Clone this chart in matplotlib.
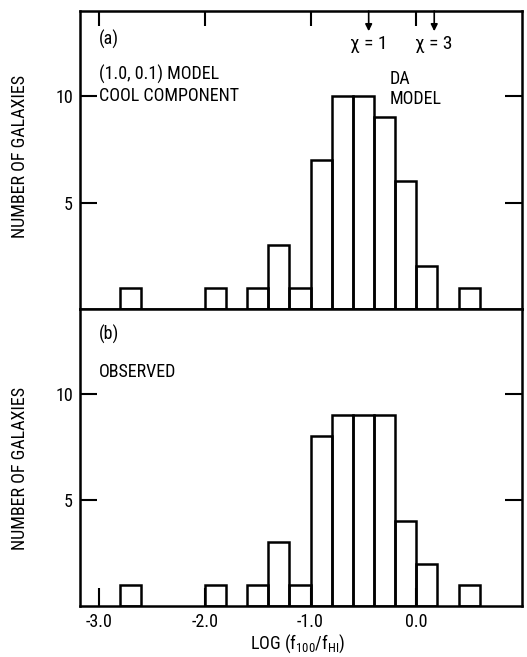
import matplotlib
matplotlib.use("Agg")
import matplotlib.pyplot as plt
from matplotlib import font_manager

# ---- data ----
bin_left = [-2.8, -2.0, -1.6, -1.4, -1.2, -1.0, -0.8, -0.6, -0.4, -0.2, 0.0, 0.4]
counts_a = [1, 1, 1, 3, 1, 7, 10, 10, 9, 6, 2, 1]   # (1.0, 0.1) model cool component
counts_b = [1, 1, 1, 3, 1, 8, 9, 9, 9, 4, 2, 1]     # observed
bin_width = 0.2
x_ticks = [-3.0, -2.0, -1.0, 0.0]
x_ticklabels = ["-3.0", "-2.0", "-1.0", "0.0"]
y_ticks = [5, 10]
chi_marks = [(-0.45, "χ = 1"), (0.17, "χ = 3")]

names = {f.name for f in font_manager.fontManager.ttflist}
fam = "DejaVu Sans"
for cand in ["Liberation Sans Narrow", "Roboto Condensed", "Archivo Narrow",
             "Asap Condensed", "Barlow Semi Condensed"]:
    if cand in names:
        fam = cand
        break
plt.rcParams["font.family"] = [fam, "DejaVu Sans"]
plt.rcParams["mathtext.fontset"] = "custom"
plt.rcParams["mathtext.rm"] = fam
plt.rcParams["mathtext.it"] = fam

W, H = 527, 657
fig = plt.figure(figsize=(W / 100, H / 100), dpi=100)

def fx(px):
    return px / W

def fy(py):
    return 1 - py / H

left, right = 80, 522
axA = fig.add_axes([fx(left), fy(309), fx(right - left), fy(11) - fy(309)])
axB = fig.add_axes([fx(left), fy(606), fx(right - left), fy(309) - fy(606)])

fs = 13
lw = 1.8
for ax, counts in ((axA, counts_a), (axB, counts_b)):
    ax.bar(bin_left, counts, width=bin_width, align="edge", fill=False,
           edgecolor="black", linewidth=lw)
    ax.set_xlim(-3.18, 1.0)
    ax.set_ylim(0, 14)
    for s in ax.spines.values():
        s.set_linewidth(lw)
    ax.set_yticks(y_ticks)
    ax.set_yticklabels([str(v) for v in y_ticks], fontsize=fs)
    ax.tick_params(axis="y", direction="in", length=12, width=1.5,
                   left=True, right=True, pad=5)

fig.text(fx(20), fy(157), "NUMBER OF GALAXIES", rotation=90, fontsize=13,
         ha="center", va="center")
fig.text(fx(20), fy(468), "NUMBER OF GALAXIES", rotation=90, fontsize=13,
         ha="center", va="center")

# top panel
axA.set_xticks(x_ticks)
axA.tick_params(axis="x", direction="in", length=11, width=1.5,
                top=True, bottom=False, labelbottom=False)
axA.text(-3.0, 12.65, "(a)", fontsize=fs, ha="left", va="center")
axA.text(-3.0, 11.0, "(1.0, 0.1) MODEL", fontsize=fs, ha="left", va="center")
axA.text(-3.0, 10.0, "COOL COMPONENT", fontsize=fs, ha="left", va="center")
axA.text(-0.25, 10.8, "DA", fontsize=fs, ha="left", va="center")
axA.text(-0.25, 9.85, "MODEL", fontsize=fs, ha="left", va="center")
for xv, lab in chi_marks:
    axA.annotate("", xy=(xv, 13.05), xytext=(xv, 14.0),
                 arrowprops=dict(arrowstyle="-|>", color="black", lw=1.2,
                                 mutation_scale=10, shrinkA=0, shrinkB=0))
    axA.text(xv, 12.45, lab, fontsize=14, ha="center", va="center")

# bottom panel
axB.set_xticks(x_ticks)
axB.set_xticklabels(x_ticklabels, fontsize=fs)
axB.tick_params(axis="x", direction="in", length=13, width=1.5,
                top=False, bottom=True, pad=5)
axB.text(-3.0, 12.8, "(b)", fontsize=fs, ha="left", va="center")
axB.text(-3.0, 11.05, "OBSERVED", fontsize=fs, ha="left", va="center")
fig.text(fx(298), fy(644), r"LOG (f$_{100}$/f$_{\rm HI}$)", fontsize=fs,
         ha="center", va="center")

fig.savefig("out.png", dpi=100)
